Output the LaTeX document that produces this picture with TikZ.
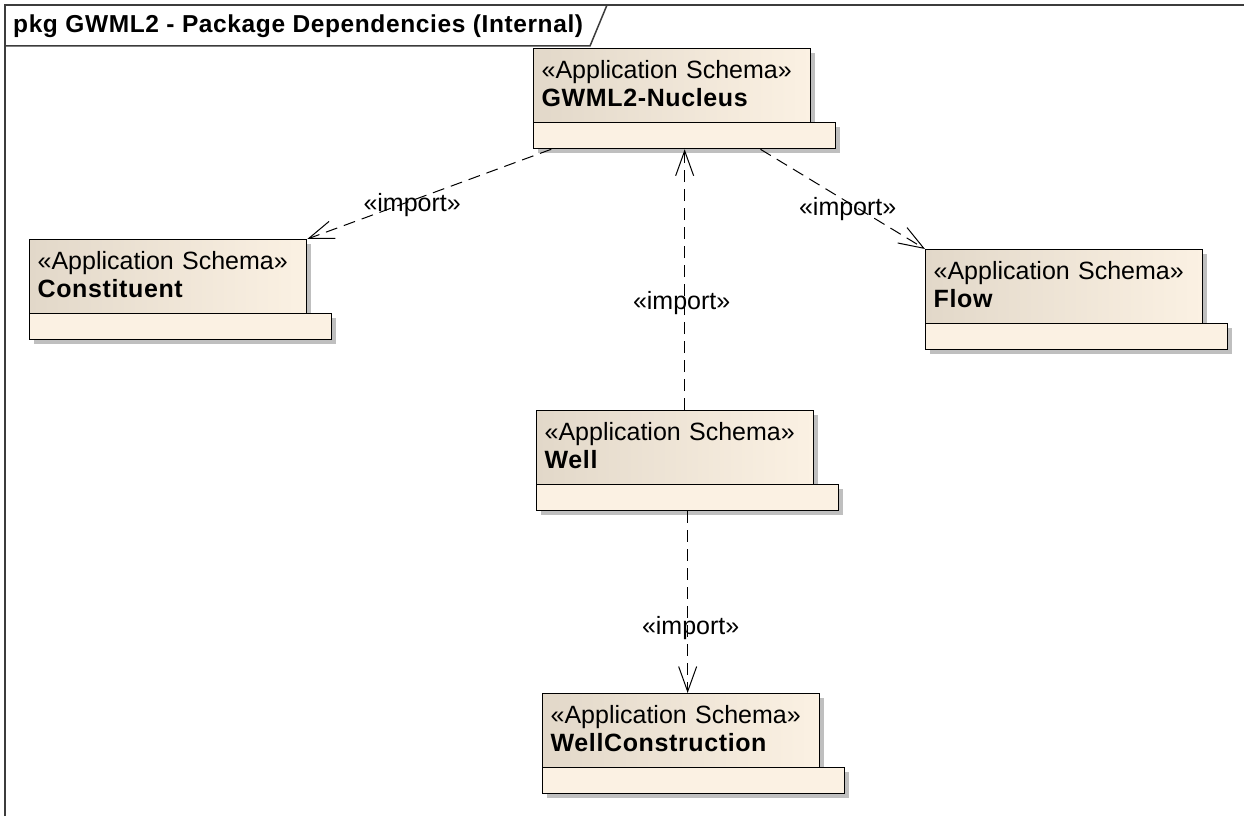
\documentclass[tikz,border=0pt]{standalone}
\usepackage{fontspec}
\setmainfont{Liberation Sans}[BoldFeatures={LetterSpace=2.5}]
\usetikzlibrary{calc,shadows,arrows.meta}
\definecolor{pkgdark}{RGB}{226,216,201}
\definecolor{pkglight}{RGB}{251,241,227}
\definecolor{framegray}{RGB}{60,60,60}

\begin{document}
\begin{tikzpicture}[x=1pt,y=-1pt,font=\fontsize{25}{28}\selectfont,
  frame/.style={line width=1.5pt,draw=framegray},
  pkg/.style={draw,line width=1.3pt,anchor=north west,minimum width=277pt,minimum height=74pt,
    text width=261pt,inner xsep=8pt,inner ysep=0pt,align=left,text height=13pt,text depth=28pt,
    left color=pkgdark,right color=pkglight,
    drop shadow={shadow xshift=4pt,shadow yshift=-4pt,fill=black!25,opacity=1}},
  pkgbar/.style={draw,line width=1.3pt,anchor=north west,minimum width=302pt,minimum height=26pt,
    inner sep=0pt,fill=pkglight,
    drop shadow={shadow xshift=4pt,shadow yshift=-4pt,fill=black!25,opacity=1}},
  dep/.style={line width=1pt,dash pattern=on 12pt off 7pt,
    -{Straight Barb[length=25pt,width=18pt,line width=1pt]}},
  lbl/.style={inner sep=0pt}]
  \useasboundingbox (0,0) rectangle (1244,816);
  \fill[white] (0,0) rectangle (1244,816);
  % diagram frame
  \draw[frame] (5,816) -- (5,5) -- (1244,5);
  \draw[frame] (5,46) -- (590,46) -- (607,5);
  \node[anchor=base west,inner sep=0pt,font=\fontsize{24.5}{28}\selectfont] (title) at (13,33) {\textbf{pkg GWML2 - Package Dependencies (Internal)}};
  % packages
  \node[pkg] (nuc) at (533,48) {«Application Schema»\\\textbf{GWML2-Nucleus}};
  \node[pkgbar] (nucbar) at (533,122) {};
  \node[pkg] (const) at (29,239) {«Application Schema»\\\textbf{Constituent}};
  \node[pkgbar] (constbar) at (29,313) {};
  \node[pkg] (flow) at (925,249) {«Application Schema»\\\textbf{Flow}};
  \node[pkgbar] (flowbar) at (925,323) {};
  \node[pkg] (well) at (536,410) {«Application Schema»\\\textbf{Well}};
  \node[pkgbar] (wellbar) at (536,484) {};
  \node[pkg] (wcon) at (542,693) {«Application Schema»\\\textbf{WellConstruction}};
  \node[pkgbar] (wconbar) at (542,767) {};
  % imports
  \draw[dep] ($(nucbar.south west)!0.06!(nucbar.south east)$) -- node[lbl,pos=0.57,yshift=-5pt] {«import»} (const.north east);
  \draw[dep] ($(nucbar.south west)!0.75!(nucbar.south east)$) -- node[lbl,pos=0.53,yshift=-7pt] {«import»} (flow.north west);
  \draw[dep] (well.north -| nucbar.south) -- node[lbl,pos=0.41,xshift=-3pt] {«import»} (nucbar.south);
  \draw[dep] (wellbar.south) -- node[lbl,pos=0.64,xshift=3pt] {«import»} (wellbar.south |- wcon.north);
\end{tikzpicture}
\end{document}
